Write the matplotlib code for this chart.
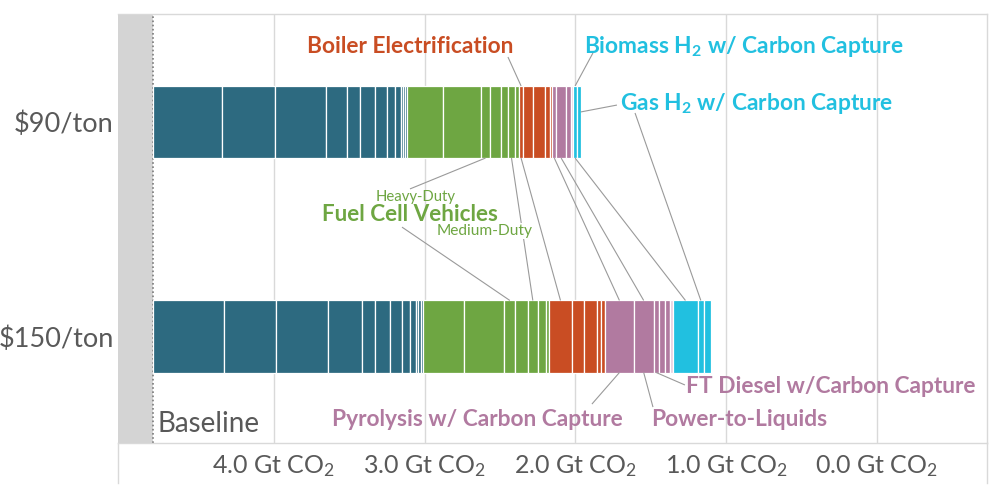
import matplotlib
matplotlib.use("Agg")
import matplotlib.pyplot as plt

plt.rcParams['font.family'] = ['Lato', 'DejaVu Sans']
plt.rcParams['mathtext.fontset'] = 'custom'
plt.rcParams['mathtext.rm'] = 'Lato'
plt.rcParams['mathtext.bf'] = 'Lato:bold'
plt.rcParams['mathtext.it'] = 'Lato:italic'

# ---------------- data ----------------
categories = ["$90/ton", "$150/ton"]
baseline = 4.80
x_ticks = [4.0, 3.0, 2.0, 1.0, 0.0]
x_tick_labels = ["4.0 Gt CO$_2$", "3.0 Gt CO$_2$", "2.0 Gt CO$_2$",
                 "1.0 Gt CO$_2$", "0.0 Gt CO$_2$"]

# emission-reduction segments (Gt CO2), $90/ton
teal_90 = [0.458, 0.350, 0.338, 0.141, 0.084, 0.100, 0.080, 0.053, 0.040, 0.013, 0.013, 0.011]
green_90 = [0.243, 0.248, 0.062, 0.071, 0.044, 0.053, 0.021]
orange_90 = [0.032, 0.066, 0.080, 0.029, 0.017]
pink_90 = [0.025, 0.066, 0.031]
lightpink_90 = [0.017]
cyan_90 = [0.023, 0.027]

# emission-reduction segments (Gt CO2), $150/ton
teal_150 = [0.466, 0.344, 0.345, 0.230, 0.088, 0.098, 0.080, 0.048, 0.040, 0.013, 0.023, 0.012]
green_150 = [0.275, 0.265, 0.075, 0.084, 0.062, 0.058, 0.020]
orange_150 = [0.149, 0.083, 0.083, 0.027, 0.029]
pink_150 = [0.189, 0.133, 0.033, 0.040, 0.032]
lightpink_150 = [0.025]
cyan_150 = [0.161, 0.043, 0.043]

colors = {
    "teal": "#2d6a80",
    "green": "#6ea642",
    "orange": "#c94d23",
    "pink": "#b17aa0",
    "lightpink": "#e6cfe0",
    "cyan": "#21c0e0",
}
gray_text = "#595959"
grid_c = "#d9d9d9"
leader_c = "#9a9a9a"

rows = [
    [("teal", teal_90), ("green", green_90), ("orange", orange_90),
     ("pink", pink_90), ("lightpink", lightpink_90), ("cyan", cyan_90)],
    [("teal", teal_150), ("green", green_150), ("orange", orange_150),
     ("pink", pink_150), ("lightpink", lightpink_150), ("cyan", cyan_150)],
]

# ---------------- figure ----------------
fig = plt.figure(figsize=(10, 4.99), dpi=100)
ax = fig.add_axes([0.118, 56 / 499, 0.869, 429 / 499])
ax.set_xlim(5.035, -0.730)
ax.set_ylim(1.4965, -0.5035)

bar_h = 0.336
mids = {}
ends = {}
for r, groups in enumerate(rows):
    start = baseline
    for name, vals in groups:
        for i, v in enumerate(vals):
            ax.barh(r, -v, left=start, height=bar_h, color=colors[name],
                    edgecolor="white", linewidth=0.9, zorder=3)
            mids[(r, name, i)] = start - v / 2
            start -= v
    ends[r] = start

# grey band and dotted baseline
ax.axvspan(5.035, baseline, color="#d4d4d4", zorder=1, lw=0)
ax.axvline(baseline, color="#7a7a7a", ls=(0, (1, 1.5)), lw=1.2, zorder=2)

# grid
for t in x_ticks:
    ax.axvline(t, color=grid_c, lw=1, zorder=0)

ax.set_xticks(x_ticks)
ax.set_xticklabels(x_tick_labels, fontsize=18, color=gray_text)
ax.set_yticks([0, 1])
ax.set_yticklabels(categories, fontsize=19.5, color=gray_text)
ax.tick_params(axis="x", length=0, pad=7)
ax.tick_params(axis="y", length=0, pad=3)

ax.spines["left"].set_visible(False)
for s in ["top", "right", "bottom"]:
    ax.spines[s].set_color(grid_c)
    ax.spines[s].set_linewidth(1)

# lower box edges
ax.plot([0, 0], [0, -40 / 429], transform=ax.transAxes, color=grid_c, lw=1, clip_on=False)
ax.plot([1, 1], [0, -40 / 429], transform=ax.transAxes, color=grid_c, lw=1, clip_on=False)

# ---------------- leader lines ----------------
top0, bot0 = -bar_h / 2, bar_h / 2
top1, bot1 = 1 - bar_h / 2, 1 + bar_h / 2

def leader(x0, y0, x1, y1):
    ax.plot([x0, x1], [y0, y1], color=leader_c, lw=0.8, zorder=4, solid_capstyle="butt")

leader(mids[(0, "orange", 0)], top0, 2.448, -0.303)
leader(mids[(0, "cyan", 0)], top0, 1.884, -0.322)
leader(ends[0], -0.047, 1.725, -0.079)
leader(1.605, -0.042, mids[(1, "cyan", 1)], top1)
leader(mids[(0, "green", 2)], bot0, 3.098, 0.312)
leader(3.151, 0.490, mids[(1, "green", 2)], top1)
leader(mids[(0, "green", 5)], bot0, mids[(1, "green", 4)], top1)
leader(mids[(0, "orange", 0)], bot0, mids[(1, "orange", 0)], top1)
leader(mids[(0, "pink", 0)], bot0, mids[(1, "pink", 0)], top1)
leader(mids[(0, "pink", 1)], bot0, mids[(1, "pink", 1)], top1)
leader(mids[(0, "cyan", 0)], bot0, mids[(1, "cyan", 0)], top1)
leader(mids[(1, "pink", 0)], bot1, 1.891, 1.315)
leader(mids[(1, "pink", 1)], bot1, 1.486, 1.329)
leader(mids[(1, "pink", 2)], bot1, 1.274, 1.226)

# ---------------- labels ----------------
bold = dict(fontweight="bold", fontsize=16.4, va="center", zorder=6)
ax.text(3.098, -0.350, "Boiler Electrification", color=colors["orange"], ha="center", **bold)
ax.text(1.943, -0.354, "Biomass H$_\\mathbf{2}$ w/ Carbon Capture", color=colors["cyan"], ha="left", **bold)
ax.text(1.705, -0.084, "Gas H$_\\mathbf{2}$ w/ Carbon Capture", color=colors["cyan"], ha="left", **bold)
ax.text(3.058, 0.350, "Heavy-Duty", color=colors["green"], ha="center", va="center", fontsize=10.7, zorder=6)
ax.text(3.098, 0.429, "Fuel Cell Vehicles", color=colors["green"], ha="center", va="center",
        fontsize=16.2, fontweight="bold", zorder=6)
ax.text(2.600, 0.508, "Medium-Duty", color=colors["green"], ha="center", va="center", fontsize=11.2,
        zorder=6, bbox=dict(facecolor="white", edgecolor="none", pad=0.5))
ax.text(2.653, 1.389, "Pyrolysis w/ Carbon Capture", color=colors["pink"], ha="center", **bold)
ax.text(1.499, 1.385, "Power-to-Liquids", color=colors["pink"], ha="left", **bold)
ax.text(1.267, 1.231, "FT Diesel w/Carbon Capture", color=colors["pink"], ha="left", **bold)
ax.text(4.776, 1.408, "Baseline", color=gray_text, ha="left", va="center", fontsize=20, zorder=6)

fig.savefig("out.png", dpi=100)
